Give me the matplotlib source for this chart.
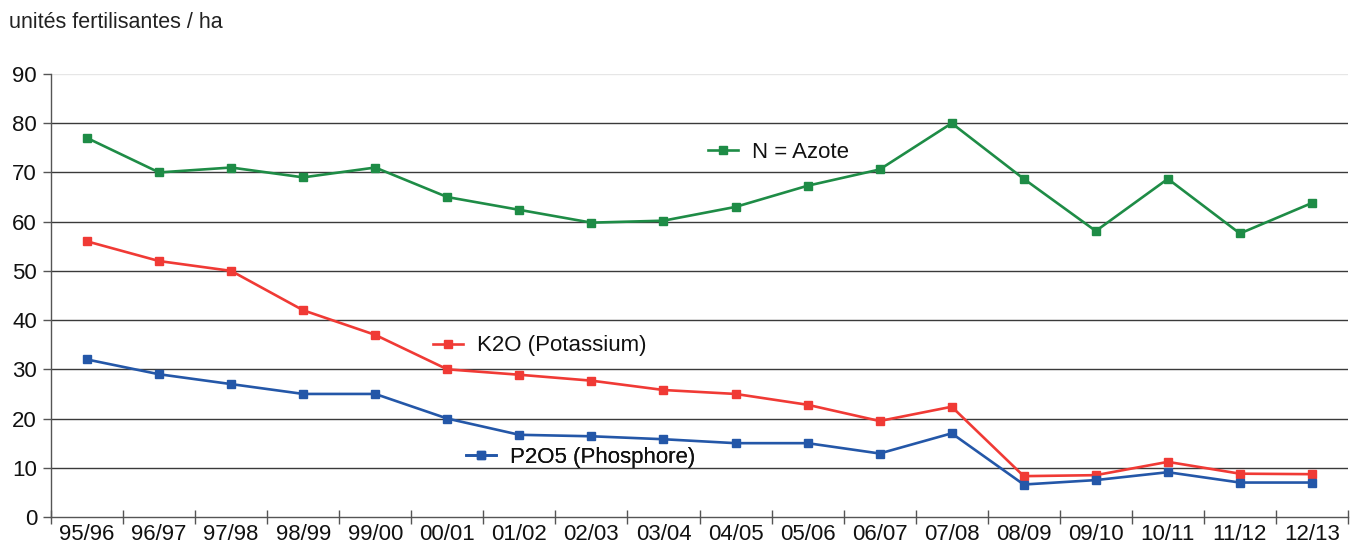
import matplotlib
matplotlib.use("Agg")
import matplotlib.pyplot as plt
from matplotlib.lines import Line2D
import numpy as np

plt.rcParams['font.family'] = ['Liberation Sans', 'DejaVu Sans']

categories = ["95/96", "96/97", "97/98", "98/99", "99/00", "00/01", "01/02", "02/03",
              "03/04", "04/05", "05/06", "06/07", "07/08", "08/09", "09/10", "10/11",
              "11/12", "12/13"]
azote = [77, 70, 71, 69, 71, 65, 62.4, 59.8, 60.2, 63, 67.3, 70.6, 80, 68.7, 58.1, 68.7, 57.6, 63.8]
potassium = [56, 52, 50, 42, 37, 30, 28.9, 27.7, 25.8, 25, 22.8, 19.5, 22.4, 8.3, 8.5, 11.2, 8.8, 8.7]
phosphore = [32, 29, 27, 25, 25, 20, 16.7, 16.4, 15.8, 15, 15, 12.9, 17, 6.6, 7.5, 9.1, 7.0, 7.0]
yticks = [0, 10, 20, 30, 40, 50, 60, 70, 80, 90]

green = '#1e8c46'
red = '#f03a35'
blue = '#2457a8'

fig = plt.figure(figsize=(13.52, 5.42), dpi=100)
ax = fig.add_axes([51/1352, 1 - 517/542, (1348 - 51)/1352, (517 - 74)/542])

x = np.arange(len(categories))
style = dict(lw=1.9, marker='s', markersize=6)
la, = ax.plot(x, azote, color=green, **style)
lk, = ax.plot(x, potassium, color=red, **style)
lp, = ax.plot(x, phosphore, color=blue, **style)

ax.set_xlim(-0.5, len(categories) - 0.5)
ax.set_ylim(0, 90)
ax.set_yticks(yticks)
ax.set_yticklabels([str(v) for v in yticks], fontsize=16, color='#111111')

for v in yticks[1:]:
    col = '#e6e6e6' if v == 90 else '#3a3a3a'
    ax.axhline(v, color=col, lw=1.0, zorder=0)

ax.set_xticks(np.arange(len(categories) + 1) - 0.5)
ax.set_xticklabels([])
ax.set_xticks(x, minor=True)
ax.set_xticklabels(categories, minor=True, fontsize=16, color='#111111')
ax.tick_params(axis='x', which='major', direction='inout', length=10, color='#555555', width=1)
ax.tick_params(axis='x', which='minor', length=0, pad=5)
ax.tick_params(axis='y', direction='out', length=6, color='#555555', width=1, pad=4)

for s in ['top', 'right']:
    ax.spines[s].set_visible(False)
for s in ['left', 'bottom']:
    ax.spines[s].set_color('#555555')
    ax.spines[s].set_linewidth(1)

def label(handle, text, xa, ya):
    leg = ax.legend([handle], [text], loc='center left', bbox_to_anchor=(xa, ya),
                    frameon=False, fontsize=16, handlelength=1.35, handletextpad=0.62,
                    borderaxespad=0, borderpad=0, prop={'size': 16})
    for t in leg.get_texts():
        t.set_color('#111111')
    ax.add_artist(leg)

label(Line2D([], [], color=green, lw=1.9, marker='s', markersize=6), "N = Azote",
      (708 - 51) / 1297, (517 - 152) / 443)
label(Line2D([], [], color=red, lw=1.9, marker='s', markersize=6), "K2O (Potassium)",
      (433 - 51) / 1297, (517 - 346) / 443)
label(Line2D([], [], color=blue, lw=1.9, marker='s', markersize=6), "P2O5 (Phosphore)",
      (466 - 51) / 1297, (517 - 457) / 443)

fig.text(9/1352, 1 - 23/542, "unités fertilisantes / ha", fontsize=15.5, color='#222222',
         ha='left', va='center')

fig.savefig("out.png", dpi=100)
